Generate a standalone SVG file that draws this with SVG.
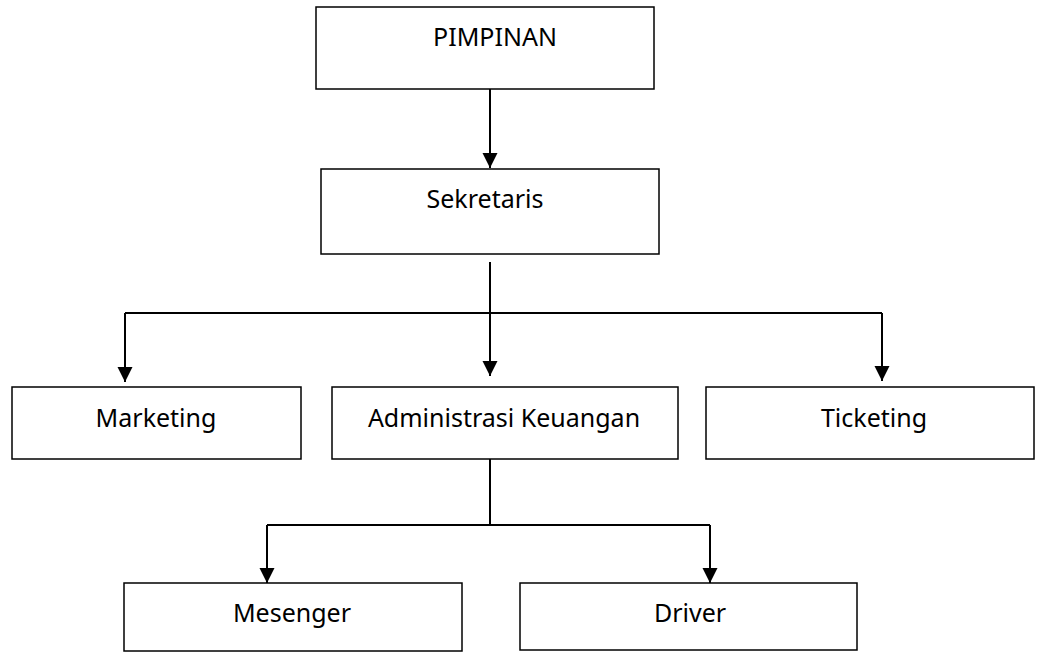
<svg xmlns="http://www.w3.org/2000/svg" width="1037" height="654" viewBox="0 0 1037 654">
<style>
.box{fill:#fff;stroke:#000;stroke-width:1.5}
.lbl{font-family:"Noto Sans","Open Sans",sans-serif;font-size:25px;fill:#000;text-anchor:middle}
.con{fill:none;stroke:#000;stroke-width:2}
</style>
<defs>
<marker id="arr" markerUnits="userSpaceOnUse" markerWidth="16" markerHeight="16" refX="15" refY="7.5" orient="auto">
<path d="M0,0 L15,7.5 L0,15 z" fill="#000"/>
</marker>
</defs>
<rect width="1037" height="654" fill="#fff"/>
<g id="pimpinan"><rect class="box" x="316" y="7" width="338" height="82"/><text class="lbl" x="495" y="46">PIMPINAN</text></g>
<g id="sekretaris"><rect class="box" x="321" y="169" width="338" height="85"/><text class="lbl" x="485" y="208">Sekretaris</text></g>
<g id="marketing"><rect class="box" x="12" y="387" width="289" height="72"/><text class="lbl" x="156" y="427">Marketing</text></g>
<g id="administrasi"><rect class="box" x="332" y="387" width="346" height="72"/><text class="lbl" x="504" y="427">Administrasi Keuangan</text></g>
<g id="ticketing"><rect class="box" x="706" y="387" width="328" height="72"/><text class="lbl" x="874" y="427">Ticketing</text></g>
<g id="mesenger"><rect class="box" x="124" y="583" width="338" height="68"/><text class="lbl" x="292" y="622">Mesenger</text></g>
<g id="driver"><rect class="box" x="520" y="583" width="337" height="67"/><text class="lbl" x="690" y="622">Driver</text></g>
<g id="connectors">
<path class="con" d="M490,89 V168" marker-end="url(#arr)"/>
<path class="con" d="M490,262 V376" marker-end="url(#arr)"/>
<path class="con" d="M125,313 H882"/>
<path class="con" d="M125,313 V382" marker-end="url(#arr)"/>
<path class="con" d="M882,313 V381" marker-end="url(#arr)"/>
<path class="con" d="M490,459 V525"/>
<path class="con" d="M267,525 H710"/>
<path class="con" d="M267,525 V583" marker-end="url(#arr)"/>
<path class="con" d="M710,525 V583" marker-end="url(#arr)"/>
</g>
</svg>
